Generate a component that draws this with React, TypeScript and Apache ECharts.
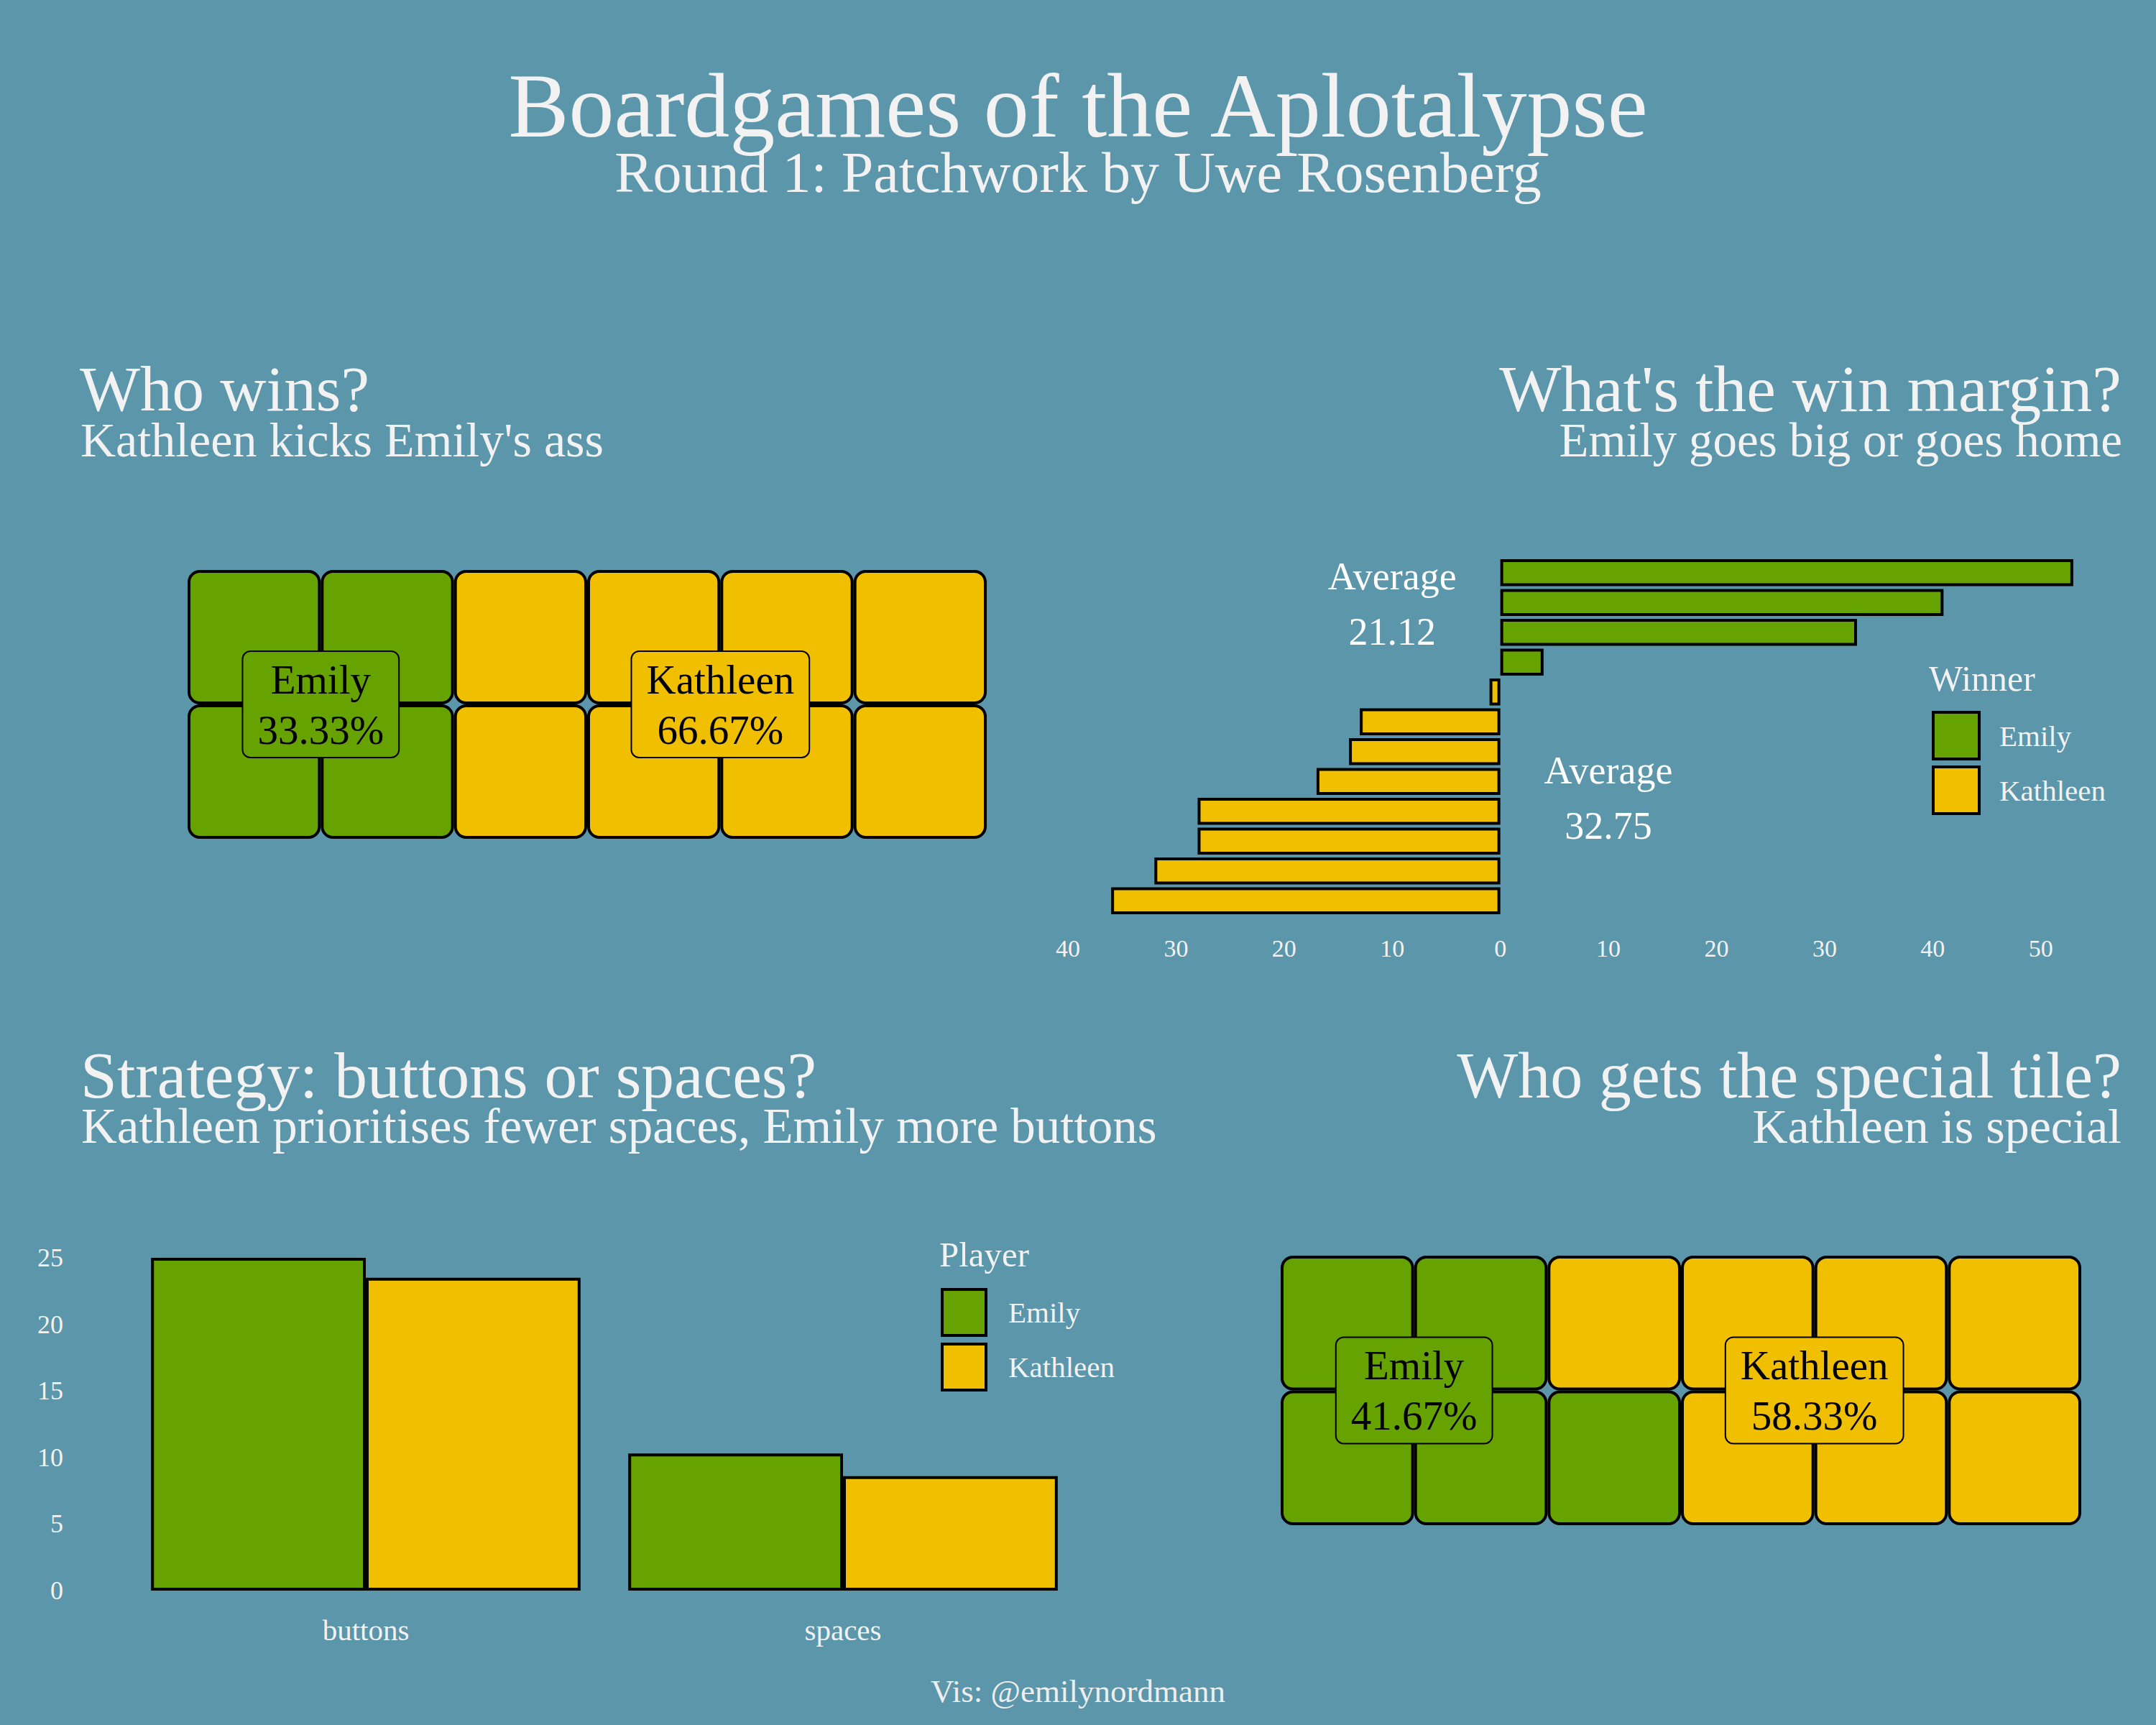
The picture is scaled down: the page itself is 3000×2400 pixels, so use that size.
import React, { useEffect, useRef } from 'react';
import * as echarts from 'echarts';

// ---------- data ----------
const players = ['Emily', 'Kathleen'];
const winCounts = [4, 8];
const specialTileCounts = [5, 7];
const gameOrder = ['1', '2', '3', '4', '5', '6', '7', '8', '9', '10', '11', '12'];
const winMargins = [53, 41, 33, 4, -1, -13, -14, -17, -28, -28, -32, -36];
const averageMargins = [32.75, 21.12]; // Emily, Kathleen
const strategyCategories = ['buttons', 'spaces'];
const emilyStrategy = [25, 10.3];
const kathleenStrategy = [23.5, 8.6];

// ---------- styles ----------
const FONT = '"Liberation Serif", "Times New Roman", serif';
const BG = '#5B96AB';
const GREEN = '#66A300';
const YELLOW = '#F0C000';
const WHITE = '#F2F2F2';
const playerColors = [GREEN, YELLOW];

function buildTiles(counts: number[]) {
  const tiles: number[][] = [];
  let i = 0;
  counts.forEach((n, p) => {
    for (let k = 0; k < n; k++) {
      tiles.push([Math.floor(i / 2) + 1, (i % 2) + 1, p]);
      i++;
    }
  });
  return tiles;
}

function pct(counts: number[], p: number) {
  const total = counts.reduce((a, b) => a + b, 0);
  return ((counts[p] / total) * 100).toFixed(2) + '%';
}

const renderTile = (params: any, api: any) => {
  const c = api.value(0);
  const r = api.value(1);
  const p = api.value(2);
  const tl = api.coord([c - 0.5, r + 0.5]);
  const br = api.coord([c + 0.5, r - 0.5]);
  return {
    type: 'rect',
    shape: { x: tl[0] + 2, y: tl[1] + 2, width: br[0] - tl[0] - 4, height: br[1] - tl[1] - 4, r: 15 },
    style: { fill: playerColors[p], stroke: '#000', lineWidth: 4 },
  };
};

function waffleLabels(counts: number[]) {
  const cols = [1.5, 4.5];
  return players.map((name, p) => ({
    value: [cols[p], 1.5],
    label: { formatter: `${name}\n${pct(counts, p)}`, backgroundColor: playerColors[p] },
  }));
}

const waffleLabelStyle = {
  show: true,
  position: 'inside',
  fontFamily: FONT,
  fontSize: 57,
  lineHeight: 70,
  color: '#000',
  opacity: 1,
  align: 'center',
  borderColor: '#000',
  borderWidth: 2,
  borderRadius: 10,
  padding: [3, 20],
};

const invisibleItem = { color: 'rgba(0,0,0,0)', opacity: 1 };

function txt(text: string, x: number, y: number, size: number, align: string, fill = WHITE) {
  return {
    type: 'text',
    x,
    y,
    silent: true,
    style: {
      text,
      fontFamily: FONT,
      fontSize: size,
      lineHeight: Math.round(size * 0.85),
      fill,
      align,
      verticalAlign: 'middle',
      textAlign: align,
      textVerticalAlign: 'middle',
    },
  };
}

function buildOption() {
  const hiddenValueAxis = (gridIndex: number, min: number, max: number) => ({
    type: 'value', gridIndex, min, max, show: false,
  });
  const legendBase = {
    data: players,
    orient: 'vertical',
    icon: 'rect',
    selectedMode: false,
    padding: 0,
    itemStyle: { borderColor: '#000', borderWidth: 4 },
  };
  return {
    animation: false,
    backgroundColor: BG,
    textStyle: { fontFamily: FONT },
    grid: [
      { left: 261, top: 793, width: 1112, height: 374, outerBoundsMode: 'none' },
      { left: 1486, top: 776, width: 1459, height: 498, outerBoundsMode: 'none' },
      { left: 177, top: 1713, width: 1328, height: 500, outerBoundsMode: 'none' },
      { left: 1782, top: 1747, width: 1114, height: 375, outerBoundsMode: 'none' },
    ],
    xAxis: [
      hiddenValueAxis(0, 0.5, 6.5),
      {
        type: 'value', gridIndex: 1, min: -40, max: 57, interval: 10,
        axisLine: { show: false }, axisTick: { show: false }, splitLine: { show: false },
        axisLabel: {
          color: WHITE, fontFamily: FONT, fontSize: 34, margin: 28,
          formatter: (v: number) => (v % 10 === 0 ? String(Math.abs(v)) : ''),
        },
      },
      {
        type: 'category', gridIndex: 2, data: strategyCategories,
        axisLine: { show: false }, axisTick: { show: false }, splitLine: { show: false },
        axisLabel: { color: WHITE, fontFamily: FONT, fontSize: 41, margin: 34 },
      },
      hiddenValueAxis(3, 0.5, 6.5),
    ],
    yAxis: [
      hiddenValueAxis(0, 0.5, 2.5),
      { type: 'category', gridIndex: 1, data: gameOrder, inverse: true, show: false },
      {
        type: 'value', gridIndex: 2, min: 0, max: 27, interval: 5,
        axisLine: { show: false }, axisTick: { show: false }, splitLine: { show: false },
        axisLabel: {
          color: WHITE, fontFamily: FONT, fontSize: 36, margin: 89,
          formatter: (v: number) => (v % 5 === 0 ? String(v) : ''),
        },
      },
      hiddenValueAxis(3, 0.5, 2.5),
    ],
    legend: [
      {
        ...legendBase,
        left: 2688, top: 989, itemWidth: 64, itemHeight: 65, itemGap: 7,
        textStyle: { color: WHITE, fontFamily: FONT, fontSize: 41, padding: [0, 0, 0, 23] },
      },
      {
        ...legendBase,
        left: 1309, top: 1792, itemWidth: 61, itemHeight: 64, itemGap: 8,
        textStyle: { color: WHITE, fontFamily: FONT, fontSize: 41, padding: [0, 0, 0, 26] },
      },
    ],
    series: [
      {
        type: 'custom', name: 'wins tiles', xAxisIndex: 0, yAxisIndex: 0,
        data: buildTiles(winCounts), renderItem: renderTile, silent: true,
        encode: { x: 0, y: 1 },
      },
      {
        type: 'scatter', name: 'wins labels', xAxisIndex: 0, yAxisIndex: 0,
        symbolSize: 1, itemStyle: invisibleItem, silent: true,
        label: waffleLabelStyle, data: waffleLabels(winCounts), z: 5,
      },
      {
        type: 'bar', name: 'Emily', xAxisIndex: 1, yAxisIndex: 1, stack: 'margin',
        barCategoryGap: '10%', silent: true,
        itemStyle: { color: GREEN, borderColor: '#000', borderWidth: 4 },
        data: winMargins.map((v) => (v > 0 ? v : '-')),
      },
      {
        type: 'bar', name: 'Kathleen', xAxisIndex: 1, yAxisIndex: 1, stack: 'margin',
        barCategoryGap: '10%', silent: true,
        itemStyle: { color: YELLOW, borderColor: '#000', borderWidth: 4 },
        data: winMargins.map((v) => (v < 0 ? v : '-')),
      },
      {
        type: 'scatter', name: 'averages', xAxisIndex: 1, yAxisIndex: 1,
        symbolSize: 1, itemStyle: invisibleItem, silent: true,
        label: {
          show: true, position: 'inside', color: '#FFFFFF', opacity: 1, fontFamily: FONT,
          fontSize: 54, lineHeight: 77, align: 'center',
        },
        data: [
          { value: [-10, 1], label: { formatter: `Average\n${averageMargins[1].toFixed(2)}`, offset: [0, 2] } },
          { value: [10, 7], label: { formatter: `Average\n${averageMargins[0].toFixed(2)}`, offset: [0, 23] } },
        ],
      },
      {
        type: 'bar', name: 'Emily', xAxisIndex: 2, yAxisIndex: 2,
        barGap: '0%', barCategoryGap: '10%', silent: true,
        itemStyle: { color: GREEN, borderColor: '#000', borderWidth: 4 },
        data: emilyStrategy,
      },
      {
        type: 'bar', name: 'Kathleen', xAxisIndex: 2, yAxisIndex: 2,
        barGap: '0%', barCategoryGap: '10%', silent: true,
        itemStyle: { color: YELLOW, borderColor: '#000', borderWidth: 4 },
        data: kathleenStrategy,
      },
      {
        type: 'custom', name: 'special tiles', xAxisIndex: 3, yAxisIndex: 3,
        data: buildTiles(specialTileCounts), renderItem: renderTile, silent: true,
        encode: { x: 0, y: 1 },
      },
      {
        type: 'scatter', name: 'special labels', xAxisIndex: 3, yAxisIndex: 3,
        symbolSize: 1, itemStyle: invisibleItem, silent: true,
        label: waffleLabelStyle, data: waffleLabels(specialTileCounts), z: 5,
      },
    ],
    graphic: [
      txt('Boardgames of the Aplotalypse', 1500, 147, 126, 'center'),
      txt('Round 1: Patchwork by Uwe Rosenberg', 1500, 240, 80, 'center'),
      txt('Who wins?', 111, 541, 89, 'left'),
      txt("Kathleen kicks Emily's ass", 112, 612, 68, 'left'),
      txt("What's the win margin?", 2952, 541, 91.5, 'right'),
      txt('Emily goes big or goes home', 2953, 612, 67, 'right'),
      txt('Strategy: buttons or spaces?', 112, 1496, 91.5, 'left'),
      txt('Kathleen prioritises fewer spaces, Emily more buttons', 113, 1567, 69, 'left'),
      txt('Who gets the special tile?', 2952, 1496, 90, 'right'),
      txt('Kathleen is special', 2952, 1567, 68, 'right'),
      txt('Winner', 2684, 944, 50, 'left'),
      txt('Player', 1307, 1745, 49, 'left'),
      txt('Vis: @emilynordmann', 1500, 2353, 45, 'center', '#EEEEEE'),
    ],
  };
}

export default function App() {
  const ref = useRef<HTMLDivElement>(null);
  useEffect(() => {
    if (!ref.current) return;
    const chart = echarts.init(ref.current, undefined, { renderer: 'svg' });
    chart.setOption(buildOption() as any);
    return () => chart.dispose();
  }, []);
  return (
    <div
      ref={ref}
      style={{ position: 'absolute', left: 0, top: 0, width: '3000px', height: '2400px' }}
    />
  );
}
